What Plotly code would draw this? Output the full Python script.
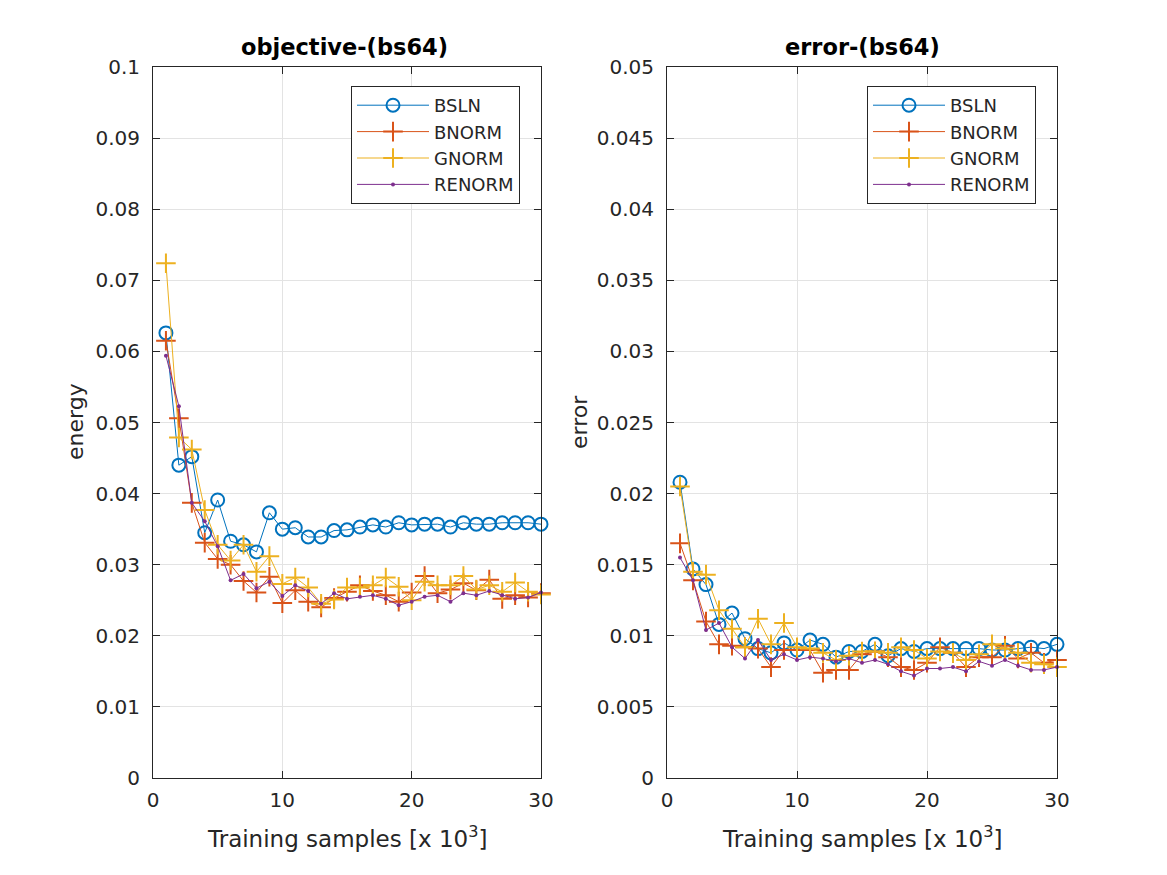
import plotly.graph_objects as go

x = list(range(1, 31))

obj_bsln = [0.0626, 0.0440, 0.0452, 0.0345, 0.0391, 0.0333, 0.0328, 0.0318, 0.0373, 0.0350,
            0.0352, 0.0339, 0.0339, 0.0348, 0.0349, 0.0353, 0.0356, 0.0353, 0.0359, 0.0356,
            0.0357, 0.0357, 0.0353, 0.0359, 0.0357, 0.0357, 0.0359, 0.0359, 0.0359, 0.0357]
obj_bnorm = [0.0615, 0.0506, 0.0387, 0.0331, 0.0308, 0.0300, 0.0277, 0.0261, 0.0283, 0.0246,
             0.0264, 0.0248, 0.0240, 0.0253, 0.0262, 0.0271, 0.0263, 0.0257, 0.0248, 0.0261,
             0.0284, 0.0260, 0.0265, 0.0274, 0.0264, 0.0279, 0.0252, 0.0257, 0.0254, 0.0260]
obj_gnorm = [0.0724, 0.0479, 0.0462, 0.0377, 0.0328, 0.0306, 0.0328, 0.0290, 0.0312, 0.0273,
             0.0282, 0.0268, 0.0245, 0.0251, 0.0268, 0.0268, 0.0271, 0.0282, 0.0269, 0.0250,
             0.0276, 0.0271, 0.0271, 0.0284, 0.0265, 0.0271, 0.0262, 0.0275, 0.0262, 0.0258]
obj_renorm = [0.0594, 0.0523, 0.0387, 0.0361, 0.0326, 0.0278, 0.0287, 0.0267, 0.0276, 0.0256,
              0.0271, 0.0263, 0.0245, 0.0260, 0.0252, 0.0255, 0.0257, 0.0252, 0.0243, 0.0248,
              0.0255, 0.0257, 0.0248, 0.0260, 0.0257, 0.0263, 0.0257, 0.0252, 0.0254, 0.0261]

err_bsln = [0.0208, 0.0147, 0.0136, 0.0108, 0.0116, 0.0098, 0.0091, 0.0088, 0.0095, 0.0090,
            0.0097, 0.0094, 0.0085, 0.0089, 0.0089, 0.0094, 0.0086, 0.0091, 0.0089, 0.0091,
            0.0091, 0.0091, 0.0091, 0.0091, 0.0090, 0.0090, 0.0091, 0.0092, 0.0091, 0.0094]
err_bnorm = [0.0165, 0.0139, 0.0110, 0.0094, 0.0093, 0.0092, 0.0091, 0.0078, 0.0090, 0.0090,
             0.0090, 0.0074, 0.0076, 0.0076, 0.0087, 0.0089, 0.0085, 0.0078, 0.0076, 0.0081,
             0.0092, 0.0088, 0.0078, 0.0085, 0.0085, 0.0093, 0.0084, 0.0088, 0.0081, 0.0083]
err_gnorm = [0.0205, 0.0145, 0.0143, 0.0118, 0.0105, 0.0092, 0.0112, 0.0094, 0.0109, 0.0092,
             0.0091, 0.0088, 0.0083, 0.0086, 0.0089, 0.0089, 0.0088, 0.0092, 0.0090, 0.0084,
             0.0089, 0.0088, 0.0083, 0.0087, 0.0094, 0.0091, 0.0088, 0.0081, 0.0080, 0.0078]
err_renorm = [0.0155, 0.0139, 0.0104, 0.0109, 0.0092, 0.0084, 0.0097, 0.0083, 0.0087, 0.0083,
              0.0085, 0.0084, 0.0082, 0.0084, 0.0081, 0.0083, 0.0080, 0.0075, 0.0072, 0.0077,
              0.0077, 0.0078, 0.0075, 0.0082, 0.0079, 0.0083, 0.0079, 0.0076, 0.0076, 0.0078]

x_ticks = [0, 10, 20, 30]
obj_ticks = [i / 100 for i in range(11)]
err_ticks = [round(i * 0.005, 3) for i in range(11)]

names = ["BSLN", "BNORM", "GNORM", "RENORM"]
colors = ["#0072BD", "#D95319", "#EDB120", "#7E2F8E"]
markers = [
    dict(symbol="circle-open", size=13, line=dict(width=2)),
    dict(symbol="cross-thin-open", size=14, line=dict(width=2)),
    dict(symbol="cross-thin-open", size=14, line=dict(width=2)),
    dict(symbol="circle", size=4),
]

FONT = "DejaVu Sans"
TXT = "#262626"
W, H = 1167, 875
OFF = 8  # page body margin

fig = go.Figure()
obj_series = [obj_bsln, obj_bnorm, obj_gnorm, obj_renorm]
err_series = [err_bsln, err_bnorm, err_gnorm, err_renorm]


def mk(i):
    m = dict(markers[i])
    m["color"] = colors[i]
    if "line" in m:
        m["line"] = dict(m["line"], color=colors[i])
    return m


for i in range(4):
    fig.add_trace(go.Scatter(x=x, y=obj_series[i], mode="lines+markers", name=names[i],
                             line=dict(color=colors[i], width=1), marker=mk(i),
                             cliponaxis=False,
                             xaxis="x", yaxis="y", legend="legend"))
for i in range(4):
    fig.add_trace(go.Scatter(x=x, y=err_series[i], mode="lines+markers", name=names[i],
                             line=dict(color=colors[i], width=1), marker=mk(i),
                             cliponaxis=False,
                             xaxis="x2", yaxis="y2", legend="legend2"))


def px_x(p):
    return (p - OFF) / W


def px_y(p):
    return 1 - (p - OFF) / H


ax_common = dict(showline=True, linecolor=TXT, linewidth=1, mirror="allticks",
                 ticks="inside", ticklen=7, tickcolor=TXT, automargin=False,
                 showgrid=True, gridcolor="#e3e3e3", gridwidth=1, zeroline=False,
                 tickfont=dict(family=FONT, size=20, color=TXT))

ydom = [px_y(778), px_y(67)]
legend_common = dict(xanchor="left", yanchor="top", bgcolor="white", bordercolor=TXT,
                     borderwidth=1, font=dict(family=FONT, size=18, color=TXT),
                     itemwidth=72, tracegroupgap=0)

fig.update_layout(
    width=W, height=H,
    margin=dict(l=0, r=0, t=0, b=0, pad=0),
    paper_bgcolor="white", plot_bgcolor="white",
    font=dict(family=FONT, size=20, color=TXT),
    xaxis=dict(ax_common, domain=[px_x(153), px_x(541)], range=[0, 30],
               tickvals=x_ticks, anchor="y", ticklabelstandoff=4),
    yaxis=dict(ax_common, domain=ydom, range=[0, 0.1], anchor="x",
               tickvals=obj_ticks, ticktext=["%g" % v for v in obj_ticks],
               ticklabelstandoff=8),
    xaxis2=dict(ax_common, domain=[px_x(667), px_x(1057)], range=[0, 30],
                tickvals=x_ticks, anchor="y2", ticklabelstandoff=4),
    yaxis2=dict(ax_common, domain=ydom, range=[0, 0.05], anchor="x2",
                tickvals=err_ticks, ticktext=["%g" % v for v in err_ticks],
                ticklabelstandoff=8),
    legend=dict(legend_common, x=px_x(351), y=px_y(86)),
    legend2=dict(legend_common, x=px_x(867), y=px_y(86)),
)

ann = [
    ("<b>objective-(bs64)</b>", 344, 47, 0, "#000000", 22.5),
    ("<b>error-(bs64)</b>", 862, 47, 0, "#000000", 22.5),
    ("energy", 76, 422, -90, TXT, 22),
    ("error", 580, 422, -90, TXT, 22),
    ("Training samples [x 10<sup>3</sup>]", 347, 837, 0, TXT, 23),
    ("Training samples [x 10<sup>3</sup>]", 862, 837, 0, TXT, 23),
]
for text, ax_, ay_, rot, col, sz in ann:
    fig.add_annotation(text=text, x=px_x(ax_), y=px_y(ay_), xref="paper", yref="paper",
                       showarrow=False, textangle=rot, xanchor="center", yanchor="middle",
                       font=dict(family=FONT, size=sz, color=col))

fig.write_html("out.html")
